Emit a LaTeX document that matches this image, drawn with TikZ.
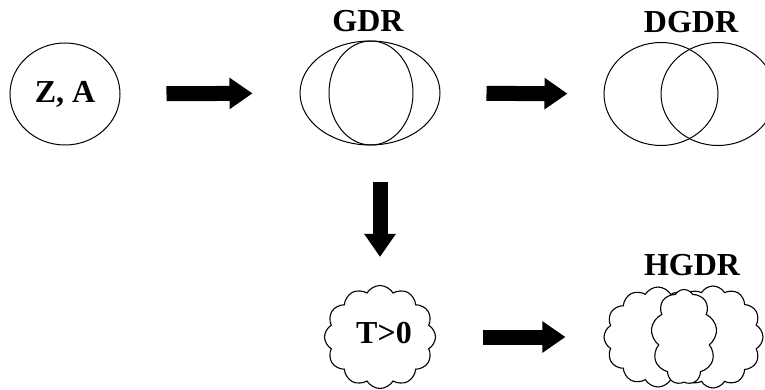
\documentclass[tikz,border=0pt]{standalone}
\usepackage{fontspec}
\setmainfont{Liberation Serif}
\usetikzlibrary{shapes.geometric,shapes.symbols,arrows.meta}

\tikzset{
  ring/.style={draw, ellipse, line width=1pt, inner sep=0pt},
  puff/.style={draw, cloud, cloud puffs=12, cloud puff arc=120, line width=1.1pt, fill=white, inner sep=0pt},
  tag/.style={font=\fontsize{32}{32}\selectfont\bfseries, inner sep=0pt},
  fat/.style={line width=15pt, -{Triangle[length=23pt,width=30pt]}}
}

\begin{document}
\begin{tikzpicture}[x=1pt,y=-1pt]
\clip (0,0) rectangle (765,390);

% start
\node[ring, tag, minimum width=110pt, minimum height=102pt] (za) at (65,94) {Z, A};

% GDR
\node[ring, minimum width=140pt, minimum height=104pt] (gdr) at (370,93) {};
\node[ring, minimum width=84pt, minimum height=104pt] (gdrin) at (371,93) {};
\node[tag] (gdrtag) at (368,21) {GDR};

% DGDR
\node[ring, minimum width=114pt, minimum height=103pt] (dgdra) at (661,94) {};
\node[ring, minimum width=114pt, minimum height=103pt] (dgdrb) at (718,94) {};
\node[tag] (dgdrtag) at (691,22) {DGDR};

% T>0
\node[puff, minimum width=111pt, minimum height=103pt] (hot) at (380,337) {};
\node[tag] (hottag) at (384,333) {T>0};

% HGDR
\node[puff, minimum width=108pt, minimum height=100pt] (hgdra) at (658,337) {};
\node[puff, minimum width=100pt, minimum height=102pt] (hgdrb) at (713,337) {};
\node[puff, cloud puffs=9, minimum width=66pt, minimum height=95pt] (hgdrc) at (684,337) {};
\node[tag] (hgdrtag) at (692,265) {HGDR};

\draw[fat, shorten <=46pt, shorten >=47pt] (za) -- (gdr);
\draw[fat, shorten <=46pt, shorten >=36pt] (gdr) -- (dgdra);
\draw[fat, shorten <=37pt, shorten >=28pt] (hot |- gdr.south) -- (hot.north);
\draw[fat, shorten <=47pt, shorten >=38pt] (hot) -- (hgdra);

\end{tikzpicture}
\end{document}
